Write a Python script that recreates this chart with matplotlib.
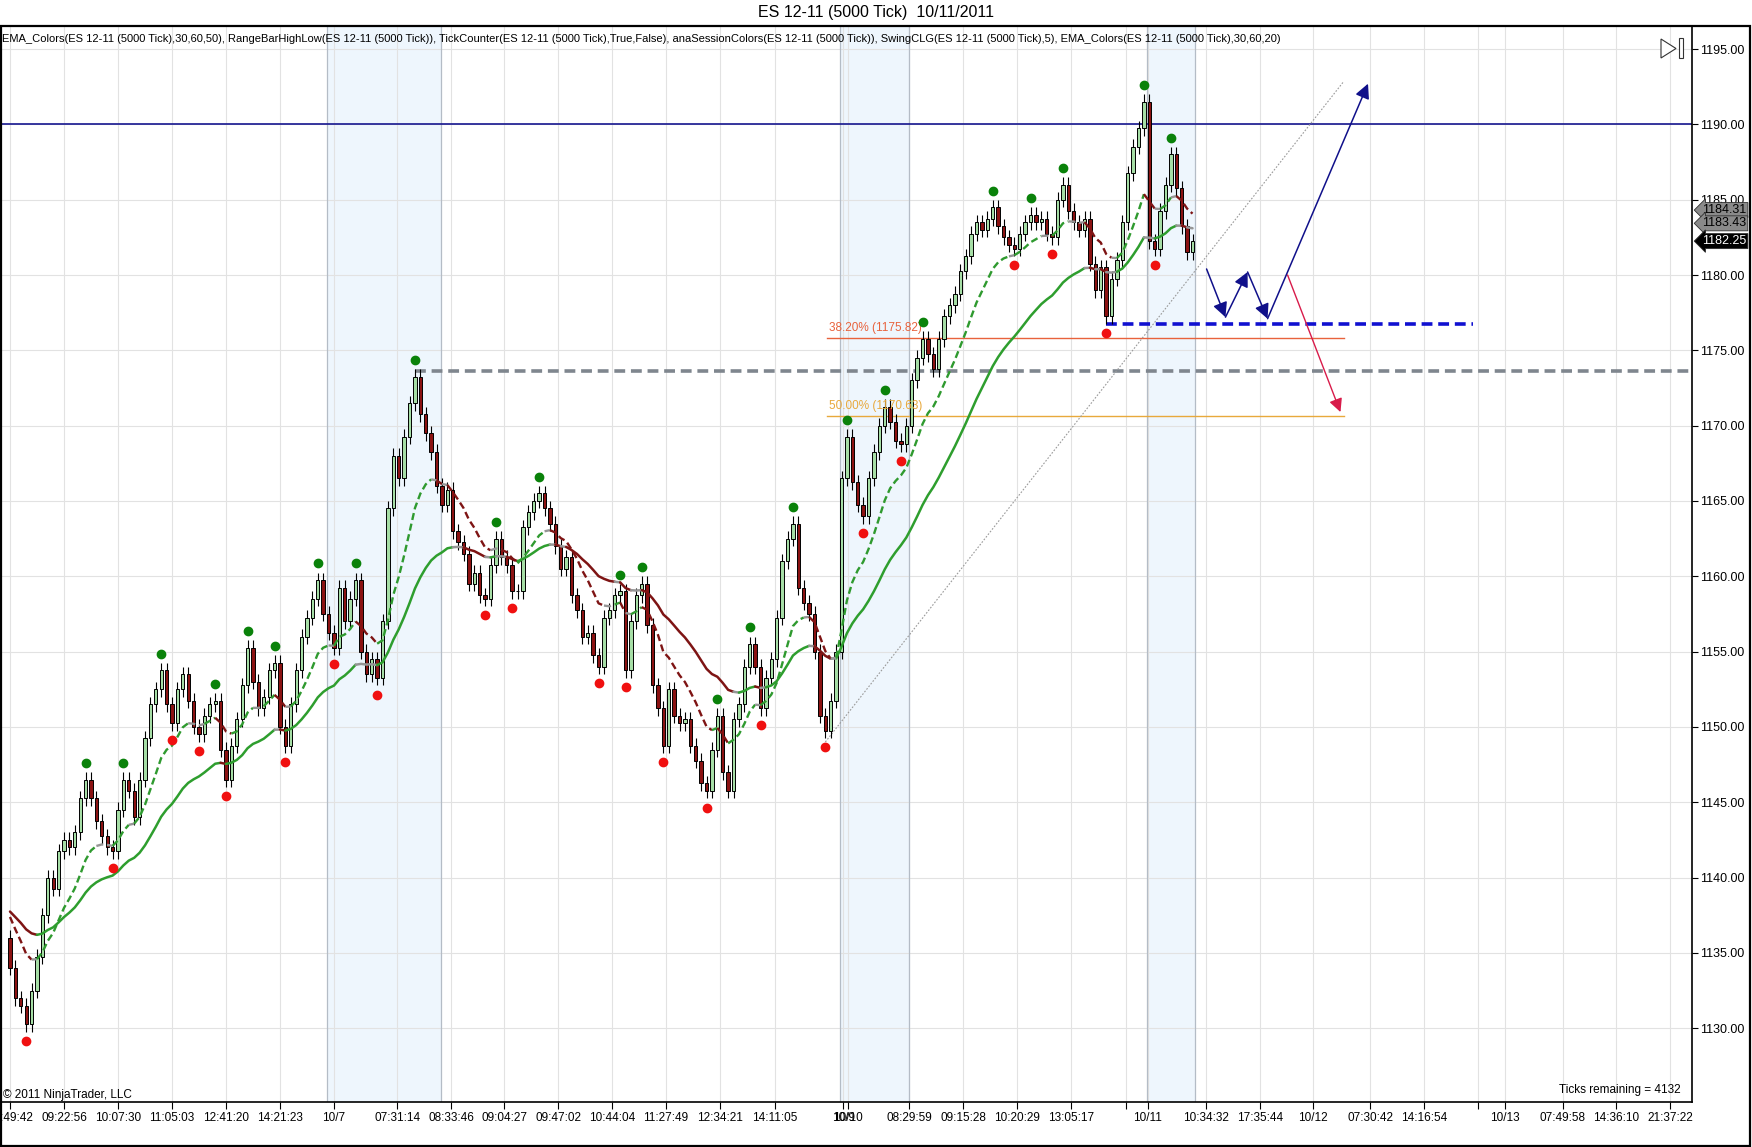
import numpy as np
import matplotlib
matplotlib.use("Agg")
import matplotlib.pyplot as plt
from matplotlib.patches import Rectangle, Polygon
import matplotlib.transforms as mtransforms

plt.rcParams['font.family'] = ['Liberation Sans Narrow', 'Liberation Sans', 'DejaVu Sans']

# ES 12-11 5000 tick bars, closes (open = previous close)
first_open = 1136.0
closes = [
    1134.0, 1132.0, 1131.5, 1130.25, 1132.5, 1134.75, 1137.5, 1140.0, 1139.25, 1141.75,
    1142.5, 1142.0, 1143.0, 1145.25, 1146.5, 1145.25, 1143.75, 1142.75, 1142.0, 1141.75,
    1144.5, 1146.5, 1145.75, 1144.0, 1146.5, 1149.25, 1151.5, 1152.5, 1153.75, 1151.5,
    1150.25, 1152.5, 1153.5, 1151.75, 1150.0, 1149.5, 1150.75, 1151.5, 1151.75, 1148.5,
    1146.5, 1148.75, 1150.5, 1152.75, 1155.25, 1153.0, 1151.25, 1152.0, 1153.75, 1154.25,
    1150.0, 1148.75, 1151.5, 1153.75, 1156.0, 1157.25, 1158.5, 1159.75, 1157.5, 1156.25,
    1155.25, 1159.25, 1157.0, 1158.5, 1159.75, 1155.0, 1153.5, 1154.5, 1153.25, 1157.0,
    1164.5, 1168.0, 1166.5, 1169.25, 1171.5, 1173.25, 1170.75, 1169.5, 1168.25, 1166.0,
    1164.75, 1165.75, 1163.0, 1162.25, 1161.5, 1159.5, 1160.25, 1158.75, 1158.5, 1160.75,
    1162.5, 1161.25, 1160.75, 1159.0, 1159.0, 1163.25, 1164.25, 1165.0, 1165.5, 1164.5,
    1163.5, 1162.0, 1160.5, 1161.25, 1158.75, 1157.75, 1156.0, 1156.25, 1154.75, 1154.0,
    1157.25, 1157.75, 1158.75, 1159.0, 1153.75, 1157.0, 1158.75, 1159.5, 1156.75, 1152.75,
    1151.25, 1148.75, 1152.5, 1150.75, 1150.25, 1150.5, 1148.75, 1147.75, 1146.25, 1145.75,
    1148.5, 1150.75, 1147.0, 1145.75, 1150.5, 1151.5, 1154.0, 1155.5, 1154.0, 1151.25,
    1153.25, 1154.5, 1157.25, 1161.0, 1162.5, 1163.5, 1159.25, 1158.25, 1157.5, 1155.0,
    1150.75, 1149.75, 1151.75, 1155.0, 1166.5, 1169.25, 1166.25, 1164.75, 1164.0, 1166.5,
    1168.25, 1170.0, 1171.25, 1170.25, 1169.0, 1168.75, 1170.0, 1173.0, 1174.5, 1175.75,
    1174.75, 1173.75, 1175.75, 1177.25, 1178.0, 1178.75, 1180.25, 1181.25, 1182.75, 1183.5,
    1183.0, 1183.75, 1184.5, 1183.25, 1182.5, 1182.0, 1181.75, 1182.75, 1183.5, 1184.0,
    1183.5, 1183.75, 1182.75, 1182.5, 1185.0, 1186.0, 1184.25, 1183.5, 1183.0, 1183.75,
    1180.75, 1179.0, 1180.5, 1177.25, 1179.75, 1181.0, 1183.5, 1186.75, 1188.5, 1189.75,
    1191.5, 1182.25, 1181.75, 1184.25, 1186.0, 1188.0, 1185.75, 1183.25, 1181.5, 1182.25,
]
wick = 0.5

tick_pos = [0, 10, 20, 30, 40, 50, 60, 71.7, 81.7, 91.5, 101.5, 111.5, 121.5, 131.5,
            141.7, 154.3, 155.2, 166.5, 176.5, 186.5, 196.5, 206.7, 210.7, 221.5,
            231.5, 241.3, 251.9, 261.9, 271.9, 276.9, 287.6, 297.4, 307.4]
tick_labels = ['08:49:42', '09:22:56', '10:07:30', '11:05:03', '12:41:20', '14:21:23',
               '10/7', '07:31:14', '08:33:46', '09:04:27', '09:47:02', '10:44:04',
               '11:27:49', '12:34:21', '14:11:05', '10/9', '10/10', '08:29:59',
               '09:15:28', '10:20:29', '13:05:17', '', '10/11', '10:34:32', '17:35:44',
               '10/12', '07:30:42', '14:16:54', '', '10/13', '07:49:58', '14:36:10',
               '21:37:22']
sessions = [(58.7, 79.8), (153.7, 166.5), (210.5, 219.5)]

fib_levels = [1175.82, 1170.63]
fib_names = ['38.20%', '50.00%']
fib_colors = ['#e8623c', '#e8a93c']
fib_span = (151.3, 247.0)

resistance = 1190.0
range_high = 1173.6
swing_low = 1176.75
trend_pts = [(151.0, 1149.0), (247.0, 1192.85)]

blue_arrows = [((221.6, 1180.4), (225.1, 1177.2)),
               ((225.1, 1177.2), (229.2, 1180.2)),
               ((229.2, 1180.2), (232.9, 1177.1)),
               ((232.9, 1177.1), (251.5, 1192.7))]
red_arrow = ((236.6, 1180.0), (246.4, 1170.9))

ema_fast_last = 1184.31
ema_slow_last = 1183.43


def ema(values, n, seed):
    out = []
    prev = seed
    k = 2.0 / (n + 1)
    for v in values:
        prev = prev + k * (v - prev)
        out.append(prev)
    return np.array(out)


def draw_ema(ax, vals, ls, lw, thr, up, down, flat):
    x = np.arange(len(vals))
    d = np.diff(vals)
    state = np.where(d > thr, 1, np.where(d < -thr, -1, 0))
    cmap = {1: up, -1: down, 0: flat}
    start = 0
    for i in range(1, len(state) + 1):
        if i == len(state) or state[i] != state[start]:
            kw = dict(color=cmap[state[start]], lw=lw, zorder=4, solid_capstyle='round')
            if ls == 'dashed':
                ax.plot(x[start:i + 1], vals[start:i + 1], ls='--', dashes=(3, 1.6), **kw)
            else:
                ax.plot(x[start:i + 1], vals[start:i + 1], **kw)
            start = i


def swings(vals, n, high=True):
    res = []
    for i in range(len(vals)):
        left = vals[max(0, i - n):i]
        right = vals[i + 1:i + n + 1]
        if len(left) < n or len(right) < 3:
            continue
        if high and vals[i] > max(left) and vals[i] >= max(right):
            res.append(i)
        if not high and vals[i] < min(left) and vals[i] <= min(right):
            res.append(i)
    return res


closes = np.array(closes)
opens = np.concatenate([[first_open], closes[:-1]])
highs = np.maximum(opens, closes) + wick
lows = np.minimum(opens, closes) - wick
x = np.arange(len(closes))

W, H = 1752, 1147
fig = plt.figure(figsize=(W / 100, H / 100), dpi=100)
ax = fig.add_axes([0, 1 - 1102 / H, 1692 / W, (1102 - 26) / H])
ax.set_xlim(-1.85, 311.5)
ax.set_ylim(1125.1, 1196.53)

# session background
for a, b in sessions:
    ax.axvspan(a, b, color='#eef6fd', zorder=0, lw=0)
    ax.axvline(a, color='#b4bcc6', lw=0.9, zorder=0.6)
    ax.axvline(b, color='#b4bcc6', lw=0.9, zorder=0.6)

ax.set_xticks(tick_pos)
ax.set_xticklabels(tick_labels, fontsize=8.5)
ax.set_yticks(np.arange(1130, 1196, 5))
ax.yaxis.set_major_formatter(matplotlib.ticker.FormatStrFormatter('%.2f'))
ax.yaxis.tick_right()
ax.tick_params(axis='y', direction='out', length=4, labelsize=9, pad=2)
ax.tick_params(axis='x', direction='out', length=5, pad=2)
ax.grid(True, color='#e2e2e2', lw=0.8, zorder=0.5)
ax.set_axisbelow(True)
ax.spines['left'].set_visible(False)
for s in ['right', 'bottom', 'top']:
    ax.spines[s].set_color('black')
    ax.spines[s].set_linewidth(1.2)

# fixed lines
ax.axhline(resistance, color='#16168f', lw=1.2, zorder=2)
ax.plot([75, 311.5], [range_high, range_high], color='#7f868e', lw=2.6,
        ls='--', dashes=(3, 1.6), zorder=2)
ax.plot([203, 271], [swing_low, swing_low], color='#1010d0', lw=2.6,
        ls='--', dashes=(3, 1.6), zorder=2)
for lvl, name, col in zip(fib_levels, fib_names, fib_colors):
    ax.plot(fib_span, [lvl, lvl], color=col, lw=1.0, zorder=2)
    ax.text(fib_span[0] + 0.3, lvl + 0.25, f'{name} ({lvl:.2f})', color=col,
            fontsize=8.5, va='bottom', ha='left', zorder=5)
ax.plot([p[0] for p in trend_pts], [p[1] for p in trend_pts], color='#9a9a9a',
        lw=0.8, ls=(0, (1.5, 1.5)), zorder=2)

# candles
up = closes >= opens
ax.vlines(x, lows, highs, color='black', lw=0.8, zorder=3)
ax.bar(x, np.maximum(np.abs(closes - opens), 0.05), bottom=np.minimum(opens, closes),
       width=0.62, color=np.where(up, '#a6dea6', '#8b1212'), edgecolor='black',
       linewidth=0.7, zorder=3)

# EMAs
ema_fast = ema(closes, 12, 1138.0)
ema_slow = ema(closes, 30, 1138.0)
draw_ema(ax, ema_slow, 'solid', 1.8, 0.06, '#2e9e2e', '#7e1414', '#959595')
draw_ema(ax, ema_fast, 'dashed', 1.7, 0.12, '#2f9a2f', '#7e1414', '#959595')

# swing dots
sh = swings(highs, 3, True)
sl = swings(lows, 3, False)
ax.plot(x[sh], highs[sh] + 0.6, 'o', color='#0a820a', ms=6, zorder=6)
ax.plot(x[sl], lows[sl] - 0.6, 'o', color='#f01010', ms=6, zorder=6)

# drawn arrows
for s, e in blue_arrows:
    ax.annotate('', xy=e, xytext=s, zorder=6,
                arrowprops=dict(arrowstyle='-|>', color='#10108a', lw=1.1,
                                mutation_scale=22, shrinkA=0, shrinkB=0))
ax.annotate('', xy=red_arrow[1], xytext=red_arrow[0], zorder=6,
            arrowprops=dict(arrowstyle='-|>', color='#d81b4a', lw=1.0,
                            mutation_scale=20, shrinkA=0, shrinkB=0))

# price markers
tr = mtransforms.blended_transform_factory(ax.transAxes, ax.transData)
for val, fc, tc in [(ema_fast_last, '#8a8a8a', 'black'), (ema_slow_last, '#8a8a8a', 'black'),
                    (closes[-1], 'black', 'white')]:
    ax.text(1.006, val, f'{val:.2f}', transform=tr, fontsize=9, color=tc,
            va='center', ha='left', clip_on=False, zorder=7,
            bbox=dict(boxstyle='larrow,pad=0.12', fc=fc, ec='#303030', lw=0.6))

ax.text(0.001, 0.988, 'EMA_Colors(ES 12-11 (5000 Tick),30,60,50), RangeBarHighLow(ES 12-11 (5000 Tick)), '
        'TickCounter(ES 12-11 (5000 Tick),True,False), anaSessionColors(ES 12-11 (5000 Tick)), '
        'SwingCLG(ES 12-11 (5000 Tick),5), EMA_Colors(ES 12-11 (5000 Tick),30,60,20)',
        transform=ax.transAxes, fontsize=8, va='center', ha='left', zorder=7)
ax.text(0.002, 0.0065, '\u00a9 2011 NinjaTrader, LLC', transform=ax.transAxes,
        fontsize=8.5, va='center', ha='left', zorder=7)
ax.text(0.993, 0.011, 'Ticks remaining = 4132', transform=ax.transAxes,
        fontsize=8.5, va='center', ha='right', zorder=7)

fig.text(0.5, 1 - 13 / H, 'ES 12-11 (5000 Tick)  10/11/2011', ha='center', va='center',
         fontsize=11.5)

# outer frame and scroll icon
fig.patches.append(Rectangle((0.5 / W, 1 - 1146 / H), 1749 / W, 1120 / H, fill=False,
                             ec='black', lw=1.6, transform=fig.transFigure))
fig.patches.append(Polygon([(1661 / W, 1 - 39 / H), (1661 / W, 1 - 58 / H), (1676 / W, 1 - 48.5 / H)],
                           closed=True, fc='white', ec='#333333', lw=0.8, transform=fig.transFigure))
fig.patches.append(Rectangle((1679 / W, 1 - 58 / H), 4 / W, 20 / H, fc='white', ec='#333333',
                             lw=0.8, transform=fig.transFigure))

fig.savefig('out.png', dpi=100)
